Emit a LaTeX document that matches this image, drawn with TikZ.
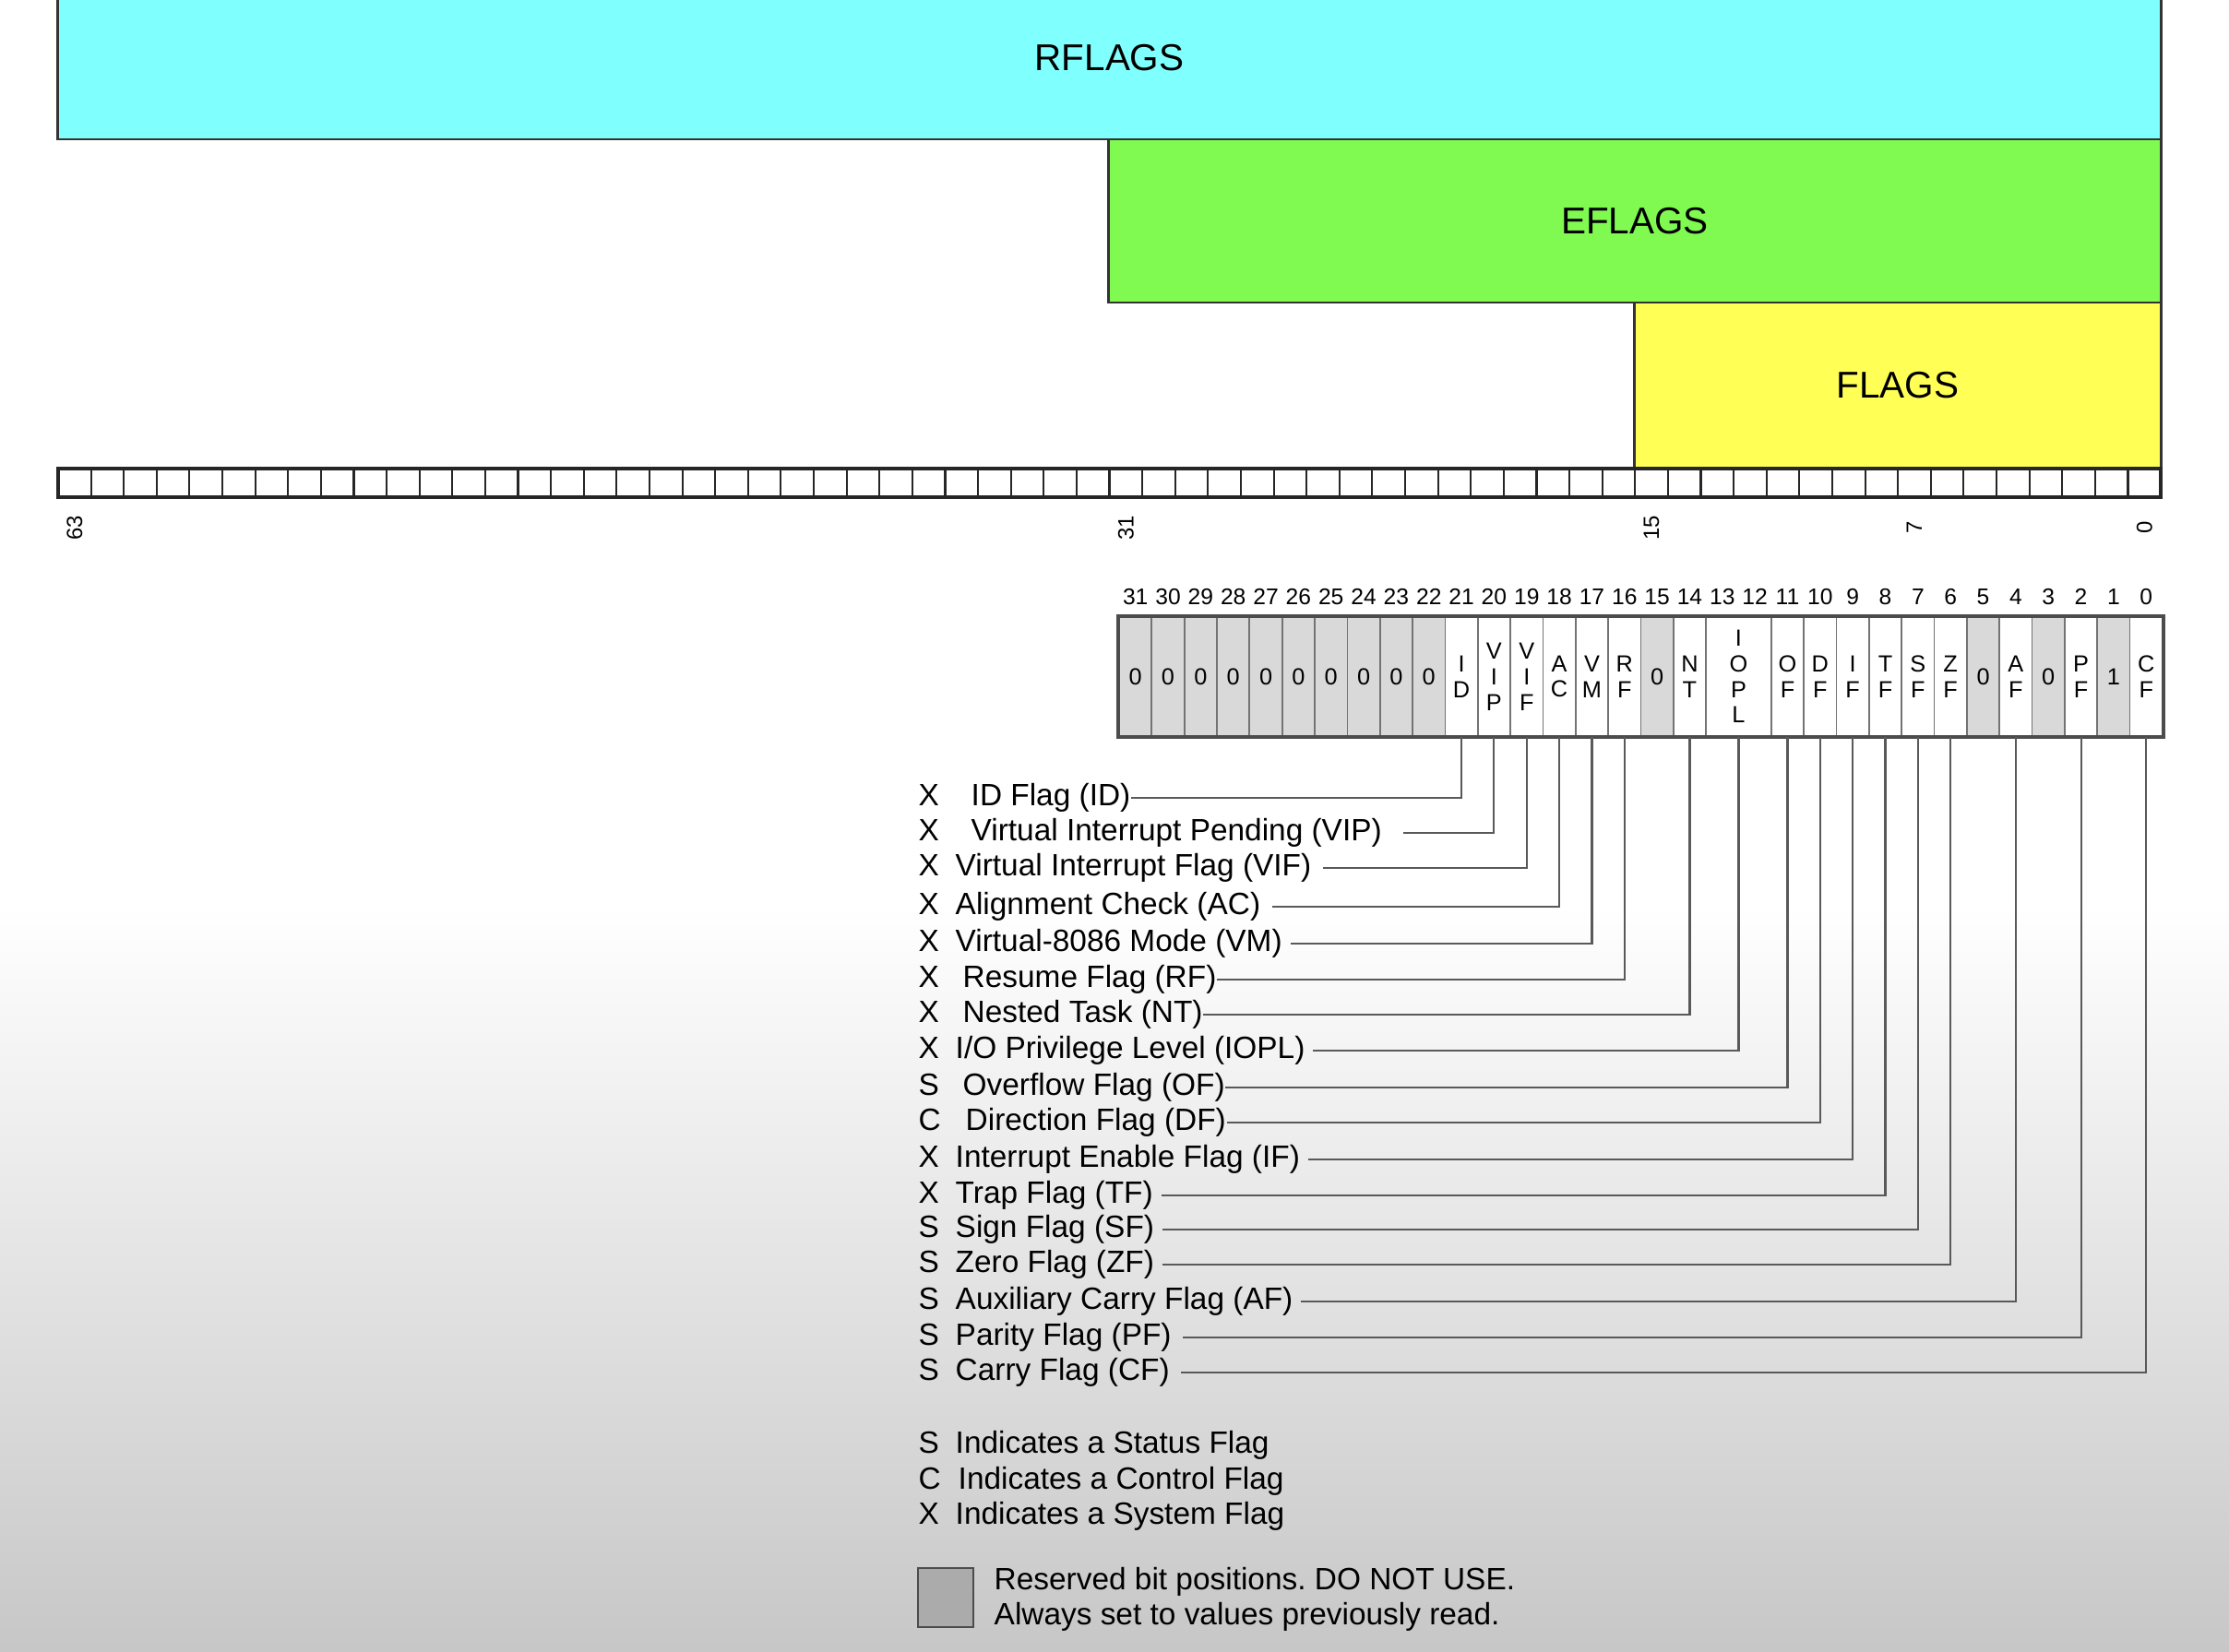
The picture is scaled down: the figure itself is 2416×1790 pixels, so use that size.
\documentclass[tikz,border=0pt]{standalone}
\usepackage{fontspec}
\setmainfont{Liberation Sans}
\frenchspacing
\begin{document}
\begin{tikzpicture}[x=0.01cm,y=-0.01cm,
  regbox/.style={draw=black!80, line width=0.8pt, inner sep=0pt, font=\fontsize{11.5}{13}\selectfont},
  cell/.style={draw=black!55, line width=0.5pt, minimum width=0.3534cm, minimum height=1.29cm, inner sep=0pt, align=center, font=\fontsize{7.2}{7.9}\selectfont},
  rsv/.style={cell, fill=black!15},
  bitnum/.style={font=\fontsize{7}{8}\selectfont, inner sep=0pt},
  posnum/.style={font=\fontsize{6.8}{7}\selectfont, rotate=90, inner sep=0pt},
  txt/.style={anchor=west, inner sep=0pt, text height=7pt, text depth=2pt, font=\fontsize{9.5}{11}\selectfont},
  wire/.style={draw=black!65, line width=0.6pt}
]
\useasboundingbox (0,0) rectangle (2416,1790);
% background
\fill[white] (0,0) rectangle (2416,1790);
\shade[top color=white, bottom color=black!22] (0,980) rectangle (2416,1790);

% register bands
\node[regbox, fill={rgb,255:red,128;green,255;blue,255}, minimum width=22.79cm, minimum height=1.76cm] (rflags) at (1202.5,63) {RFLAGS};
\node[regbox, fill={rgb,255:red,128;green,250;blue,80}, minimum width=11.40cm, minimum height=1.77cm] (eflags) at (1772,239.5) {EFLAGS};
\node[regbox, fill={rgb,255:red,255;green,255;blue,85}, minimum width=5.70cm, minimum height=1.79cm] (flags) at (2057,417.5) {FLAGS};

% 64-bit strip
\foreach \i in {0,...,63}
  \draw[black!85, line width=0.6pt] ({63+\i*35.61},508) rectangle ++(35.61,31);
\draw[black!85, line width=0.9pt] (63,508) rectangle (2342,539);
\foreach \b in {63,31,15,7,0}
  \node[posnum] (p\b) at ({63+(63-\b+0.5)*35.61},572) {\b};

% 32-bit register cells
\foreach \b in {31,...,22}
  \node[rsv] (b\b) at ({1213+(31-\b+0.5)*35.34},733.5) {0};
\foreach \b/\t in {21/{I\\D},20/{V\\I\\P},19/{V\\I\\F},18/{A\\C},17/{V\\M},16/{R\\F},14/{N\\T},11/{O\\F},10/{D\\F},9/{I\\F},8/{T\\F},7/{S\\F},6/{Z\\F},4/{A\\F},2/{P\\F},0/{C\\F}}
  \node[cell] (b\b) at ({1213+(31-\b+0.5)*35.34},733.5) {\t};
\foreach \b/\t in {15/0,5/0,3/0,1/1}
  \node[rsv] (b\b) at ({1213+(31-\b+0.5)*35.34},733.5) {\t};
\node[cell, minimum width=0.7068cm] (iopl) at ({1213+19*35.34},733.5) {I\\O\\P\\L};
\draw[black!70, line width=1.1pt] (b31.north west) rectangle (b0.south east);
\foreach \b in {0,...,31}
  \node[bitnum] (n\b) at ({1213+(31-\b+0.5)*35.34},647) {\b};

% flag descriptions and leaders
\foreach \k/\t/\x/\y/\c/\g [count=\i] in {
  X/{ID Flag (ID)}/1052/865/b21/0,
  X/{Virtual Interrupt Pending (VIP)}/1052/903/b20/6.5,
  X/{Virtual Interrupt Flag (VIF)}/1035/941/b19/3.4,
  X/{Alignment Check (AC)}/1035/983/b18/3.4,
  X/{Virtual-8086 Mode (VM)}/1035/1023/b17/2.3,
  X/{Resume Flag (RF)}/1043/1062/b16/0,
  X/{Nested Task (NT)}/1043/1100/b14/0,
  X/{I/O Privilege Level (IOPL)}/1035/1139/iopl/2.3,
  S/{Overflow Flag (OF)}/1043/1179/b11/0,
  C/{Direction Flag (DF)}/1046/1217/b10/0,
  X/{Interrupt Enable Flag (IF)}/1035/1257/b9/2.3,
  X/{Trap Flag (TF)}/1035/1296/b8/2.3,
  S/{Sign Flag (SF)}/1035/1333/b7/2.3,
  S/{Zero Flag (ZF)}/1035/1371/b6/2.3,
  S/{Auxiliary Carry Flag (AF)}/1035/1411/b4/2.3,
  S/{Parity Flag (PF)}/1035/1450/b2/3.4,
  S/{Carry Flag (CF)}/1035/1488/b0/3.4}
{
  \node[txt] (k\i) at (995,\y) {\k};
  \node[txt] (l\i) at (\x,\y) {\t};
  \draw[wire, shorten <=\g pt] (l\i.east) -| (\c.south);
}

% legend
\node[txt] (ks) at (995,1567) {S};
\node[txt] (ts) at (1035,1567) {Indicates a Status Flag};
\node[txt] (kc) at (995,1606) {C};
\node[txt] (tc) at (1038,1606) {Indicates a Control Flag};
\node[txt] (kx) at (995,1644) {X};
\node[txt] (tx) at (1035,1644) {Indicates a System Flag};
\node[draw=black!70, fill=black!33, line width=0.6pt, minimum width=0.6cm, minimum height=0.64cm, inner sep=0pt] (rsvkey) at (1025,1732) {};
\node[anchor=west, inner sep=0pt, align=left, font=\fontsize{9.5}{10.8}\selectfont] (rsvtxt) at (1077,1734) {Reserved bit positions. DO NOT USE.\\Always set to values previously read.};
\end{tikzpicture}
\end{document}
